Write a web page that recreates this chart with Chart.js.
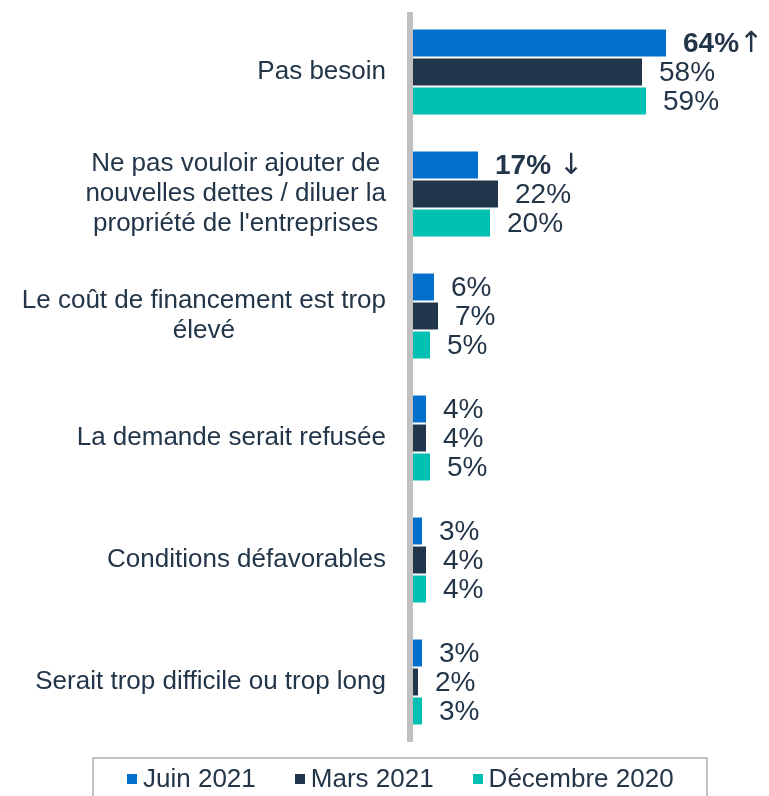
<!DOCTYPE html>
<html>
<head>
<meta charset="utf-8">
<script src="https://cdn.jsdelivr.net/npm/chart.js@4"></script>
<style>
  html, body { margin: 0; padding: 0; background: #fff; overflow: hidden; }
  #wrap { position: relative; width: 769px; height: 796px; }
  canvas { display: block; }
  #legend {
    position: absolute; left: 92px; top: 757px; width: 616px; height: 60px;
    border: 2px solid #c3c3c3; box-sizing: border-box;
    display: flex; align-items: flex-start; gap: 39px; padding: 4px 0 0 33px;
    font: 26px "Liberation Sans", Arial, sans-serif; color: #233649; line-height: 31px;
  }
  .item { display: flex; align-items: center; white-space: nowrap; height: 31px; }
  .sw { width: 10px; height: 10px; margin-right: 6px; }
</style>
</head>
<body>
<div id="wrap">
  <canvas id="chart" width="769" height="796"></canvas>
  <div id="legend"></div>
</div>
<script>
const categories = [
    ['Pas besoin'],
    ['Ne pas vouloir ajouter de', 'nouvelles dettes / diluer la', "propriété de l'entreprises"],
    ['Le coût de financement est trop', 'élevé'],
    ['La demande serait refusée'],
    ['Conditions défavorables'],
    ['Serait trop difficile ou trop long']
];
const seriesNames = ['Juin 2021', 'Mars 2021', 'Décembre 2020'];
const juin2021 = [64, 17, 6, 4, 3, 3];
const mars2021 = [58, 22, 7, 4, 4, 2];
const dec2020 = [59, 20, 5, 5, 4, 3];
const juinTrend = ['↑', '↓', '', '', '', ''];
const colors = ['#0070cc', '#22364b', '#00bfb3'];

const textColor = '#233649';
const fontFamily = '"Liberation Sans", Arial, sans-serif';

// category labels: each block centered, blocks right-aligned against the axis
const categoryLabels = {
    id: 'categoryLabels',
    afterDraw(chart) {
        const ctx = chart.ctx;
        const yScale = chart.scales.y;
        const left = chart.chartArea.left;
        ctx.save();
        ctx.font = '26px ' + fontFamily;
        ctx.fillStyle = textColor;
        ctx.textAlign = 'center';
        ctx.textBaseline = 'middle';
        categories.forEach((lines, i) => {
            const cy = yScale.getPixelForTick(i);
            const maxW = Math.max(...lines.map(l => ctx.measureText(l).width));
            const cx = left - 24 - maxW / 2;
            lines.forEach((line, j) => {
                ctx.fillText(line, cx, cy + (j - (lines.length - 1) / 2) * 30);
            });
        });
        ctx.restore();
    }
};

// grey axis line over the bar bases
const axisLine = {
    id: 'axisLine',
    afterDatasetsDraw(chart) {
        const ctx = chart.ctx;
        const a = chart.chartArea;
        ctx.save();
        ctx.fillStyle = '#c0c0c0';
        ctx.fillRect(a.left - 3, a.top + 1, 6, a.bottom - a.top - 2);
        ctx.restore();
    }
};

const valueLabels = {
    id: 'valueLabels',
    afterDatasetsDraw(chart) {
        const ctx = chart.ctx;
        ctx.save();
        ctx.fillStyle = textColor;
        ctx.textBaseline = 'middle';
        ctx.textAlign = 'left';
        chart.data.datasets.forEach((ds, di) => {
            chart.getDatasetMeta(di).data.forEach((bar, i) => {
                const txt = ds.data[i] + '%';
                const trend = di === 0 ? juinTrend[i] : '';
                ctx.font = (trend ? 'bold ' : '') + '28px ' + fontFamily;
                const x = bar.x + 17;
                ctx.fillText(txt, x, bar.y + 1);
                if (trend) {
                    const w = ctx.measureText(txt).width;
                    ctx.font = '29px "DejaVu Sans", sans-serif';
                    ctx.fillText(trend, x + w + (trend === '↑' ? 0 : 8), bar.y + 1);
                }
            });
        });
        ctx.restore();
    }
};

new Chart(document.getElementById('chart'), {
    type: 'bar',
    data: {
        labels: categories.map(c => c.join(' ')),
        datasets: [
            { label: seriesNames[0], data: juin2021, backgroundColor: colors[0] },
            { label: seriesNames[1], data: mars2021, backgroundColor: colors[1] },
            { label: seriesNames[2], data: dec2020, backgroundColor: colors[2] }
        ]
    },
    options: {
        indexAxis: 'y',
        responsive: false,
        animation: false,
        layout: { padding: { top: 11, bottom: 53, right: 7, left: 0 } },
        datasets: { bar: { categoryPercentage: 0.713, barPercentage: 0.93, borderWidth: 0 } },
        scales: {
            x: { display: false, min: 0, max: 88 },
            y: {
                ticks: { display: false },
                grid: { display: false },
                border: { display: false },
                afterFit(scale) { scale.width = 410; }
            }
        },
        plugins: {
            legend: { display: false },
            tooltip: { enabled: false }
        }
    },
    plugins: [categoryLabels, axisLine, valueLabels]
});

const legend = document.getElementById('legend');
seriesNames.forEach((name, i) => {
    const item = document.createElement('div');
    item.className = 'item';
    item.innerHTML = '<span class="sw" style="background:' + colors[i] + '"></span>' + name;
    legend.appendChild(item);
});
</script>
</body>
</html>
